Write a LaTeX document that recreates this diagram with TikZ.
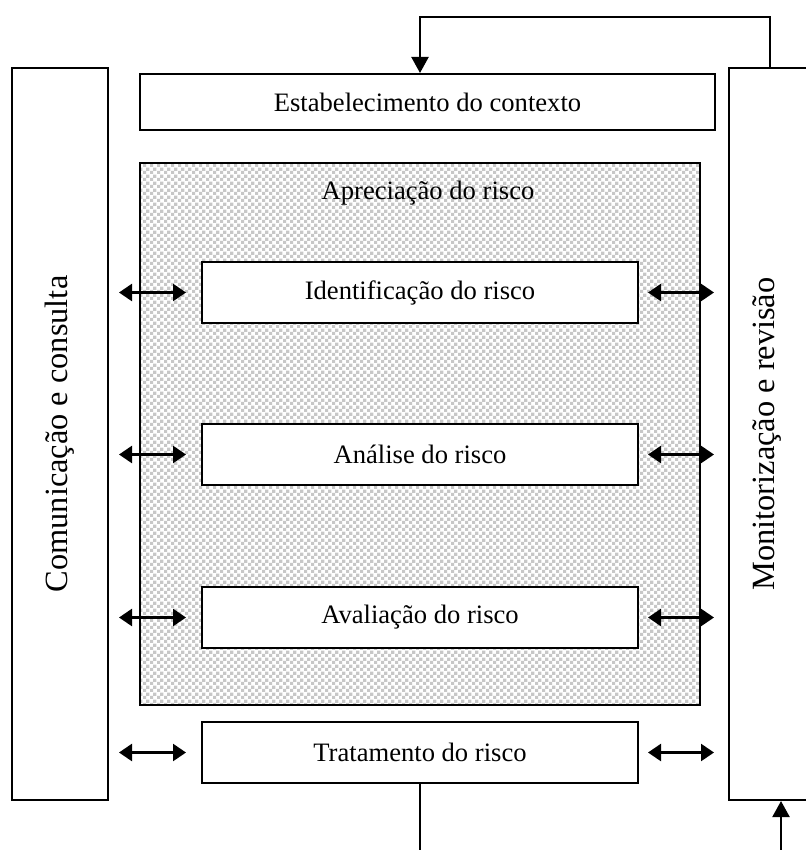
\documentclass[tikz,border=0pt]{standalone}
\usepackage{fontspec}
\setmainfont{Liberation Serif}
\usepackage{tikz}
\usetikzlibrary{positioning, arrows.meta, patterns.meta}

\tikzdeclarepattern{
  name=checker,
  type=uncolored,
  bounding box={(0pt,0pt) and (3.6pt,3.6pt)},
  tile size={(3.6pt,3.6pt)},
  code={
    \fill (0pt,0pt) rectangle (1.8pt,1.8pt);
    \fill (1.8pt,1.8pt) rectangle (3.6pt,3.6pt);
  }
}

\begin{document}
\begin{tikzpicture}[x=0.5pt, y=-0.5pt,
    font=\fontsize{13.3}{16}\selectfont,
    stagebox/.style={draw=black, line width=1pt, fill=white, inner sep=0pt,
                     minimum width=218pt, minimum height=30.5pt},
    sidebox/.style={draw=black, line width=1pt, fill=white, inner sep=0pt},
    sidetext/.style={rotate=90, font=\fontsize{16.2}{19}\selectfont},
    shadebox/.style={draw=black, line width=1pt,
                     pattern={checker}, pattern color=black!22},
    biarrow/.style={{Triangle[length=6.5pt,width=8.5pt]}-{Triangle[length=6.5pt,width=8.5pt]},
                    line width=1.2pt},
    looparrow/.style={-{Triangle[length=8pt,width=8.5pt]}, line width=1.1pt}]
  \useasboundingbox (0,0) rectangle (806,850);

  % side boxes
  \node[sidebox, minimum width=48pt, minimum height=366pt] (cons) at (60,434) {};
  \node[sidetext] (constxt) at (60,434) {Comunica\c{c}\~ao e consulta};
  \node[sidebox, minimum width=44pt, minimum height=366pt] (monit) at (773,434) {};
  \node[sidetext] (monittxt) at (767,434) {Monitoriza\c{c}\~ao e revis\~ao};

  % context
  \node[sidebox, minimum width=287.5pt, minimum height=28pt]
        (context) at (427.5,102) {Estabelecimento do contexto};

  % risk assessment
  \node[sidebox, minimum width=280pt, minimum height=271pt] (aprecbg) at (420,434) {};
  \node[shadebox, minimum width=280pt, minimum height=271pt, inner sep=0pt] (aprec) at (420,434) {};
  \node (apreclbl) at (428,193) {Aprecia\c{c}\~ao do risco};

  \node[stagebox] (ident)   at (420,292.5) {Identifica\c{c}\~ao do risco};
  \node[stagebox] (analise) at (420,454.5) {An\'alise do risco};
  \node[stagebox] (aval)    at (420,617.5) {Avalia\c{c}\~ao do risco};
  \node[stagebox] (trat)    at (420,752.5) {Tratamento do risco};

  \foreach \stage in {ident, analise, aval, trat} {
    \draw[biarrow, shorten <=5pt, shorten >=7.5pt] (cons.east |- \stage) -- (\stage.west);
    \draw[biarrow, shorten <=4.5pt, shorten >=7pt] (\stage.east) -- (\stage.east -| monit.west);
  }

  % feedback
  \coordinate (looptop) at (420,17);
  \draw[looparrow] ([xshift=-1.5pt]monit.north) |- (looptop) -- (looptop |- context.north);

  \coordinate (tratout) at (420,850);
  \draw[line width=1.1pt] (trat.south) -- (tratout);
  \coordinate (monitin) at (781,850);
  \draw[looparrow] (monitin) -- (monitin |- monit.south);
\end{tikzpicture}
\end{document}
